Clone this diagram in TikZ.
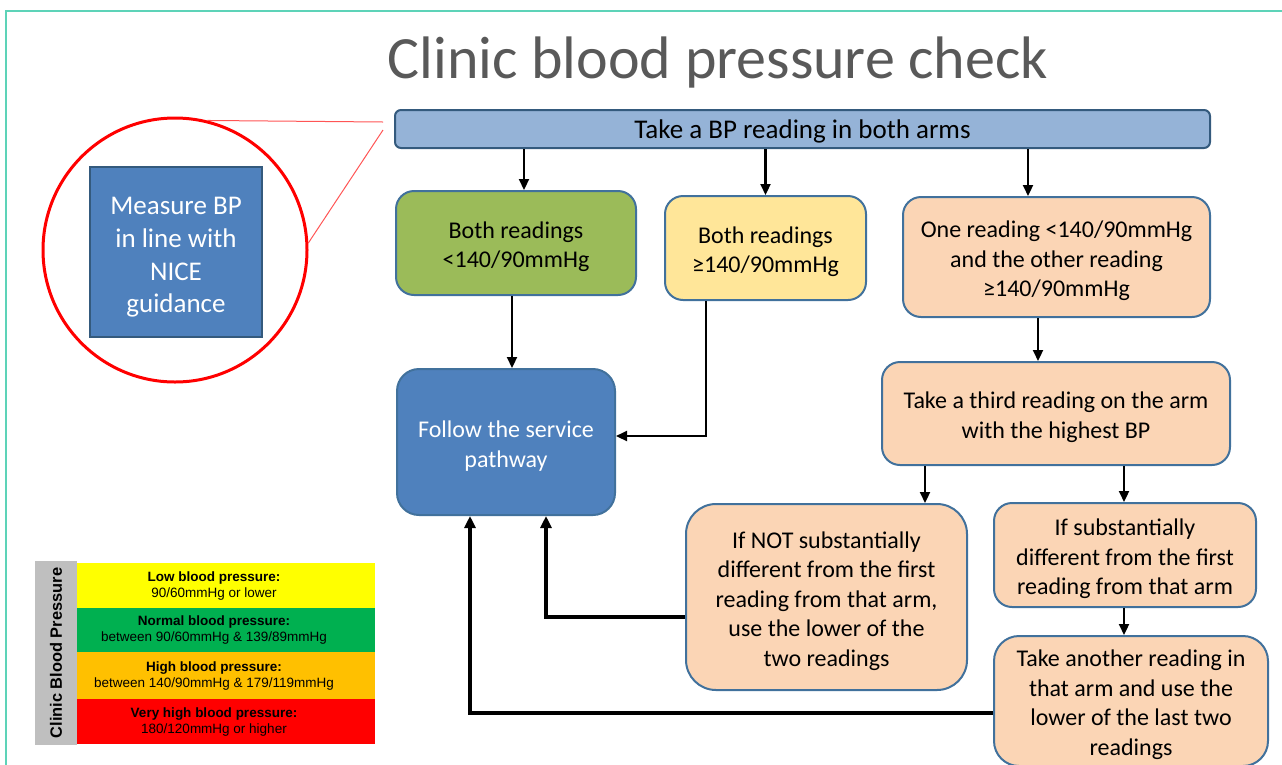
\documentclass[tikz,border=0pt]{standalone}
\usepackage{fontspec}
\setmainfont{Carlito}
\newfontfamily\arialf{Liberation Sans}
\usetikzlibrary{arrows.meta}
\definecolor{teal1}{HTML}{5DD3B8}
\definecolor{titlec}{HTML}{595959}
\definecolor{bordc}{HTML}{41719C}
\definecolor{topc}{HTML}{95B3D7}
\definecolor{greenc}{HTML}{9BBB59}
\definecolor{yellowc}{HTML}{FFE699}
\definecolor{peachc}{HTML}{FBD5B5}
\definecolor{bluec}{HTML}{4F81BD}
\definecolor{lgy}{HTML}{FFFF00}
\definecolor{lgg}{HTML}{00B050}
\definecolor{lgo}{HTML}{FFC000}
\definecolor{lgr}{HTML}{FF0000}
\definecolor{lggray}{HTML}{BFBFBF}
\definecolor{redc}{HTML}{FF0000}
\definecolor{redl}{HTML}{FF5555}
\newcommand\fst{\rule{0pt}{24.5pt}}
\tikzset{
  fbox/.style={draw=bordc, line width=2pt, rounded corners=18pt, align=center,
    inner sep=0pt, font=\fontsize{24}{29.5}\selectfont},
  arr/.style={draw=black, line width=2.2pt, -{Triangle[length=11pt,width=10pt]}},
  fback/.style={draw=black, line width=3.5pt, -{Triangle[length=12pt,width=11pt]}},
  lgrow/.style={minimum width=298pt, minimum height=45pt, inner sep=0pt, align=center,
    font=\arialf\fontsize{13.5}{16}\selectfont}
}
\begin{document}
\begin{tikzpicture}[x=1pt,y=-1pt]
\useasboundingbox (0,0) rectangle (1282,764);
% outer border
\draw[teal1, line width=2pt] (6,11) rectangle (1320,800);
% title
\node[anchor=base, text=titlec, font=\fontsize{60}{72}\selectfont, inner sep=0pt] (title) at (718,78) {Clinic blood pressure check};
% top box
\node[fbox, fill=topc, rounded corners=6pt, minimum width=815pt, minimum height=38pt,
  font=\fontsize{27}{32}\selectfont, draw=bordc!80!black] (top) at (802.5,129) {\rule{0pt}{24pt}Take a BP reading in both arms};
% row 2
\node[fbox, fill=greenc, minimum width=240pt, minimum height=104pt] (green) at (516,243) {\fst Both readings\\<140/90mmHg};
\node[fbox, fill=yellowc, minimum width=201pt, minimum height=104pt] (yellow) at (765.5,248) {\fst Both readings\\≥140/90mmHg};
\node[fbox, fill=peachc, minimum width=307pt, minimum height=120pt] (or1) at (1056.5,257) {\fst One reading <140/90mmHg\\and the other reading\\≥140/90mmHg};
% follow
\node[fbox, fill=bluec, text=white, rounded corners=22pt, minimum width=218pt, minimum height=146pt] (follow) at (506,442) {\fst Follow the service\\pathway};
% third
\node[fbox, fill=peachc, minimum width=348pt, minimum height=103pt] (third) at (1056,413.5) {\fst Take a third reading on the arm\\with the highest BP};
\node[fbox, fill=peachc, rounded corners=30pt, minimum width=281pt, minimum height=186pt] (notbox) at (826.5,597) {\fst If NOT substantially\\different from the first\\reading from that arm,\\use the lower of the\\two readings};
\node[fbox, fill=peachc, minimum width=262pt, minimum height=104pt] (subst) at (1125,555) {\fst If substantially\\different from the first\\reading from that arm};
\node[fbox, fill=peachc, rounded corners=25pt, minimum width=274pt, minimum height=130pt] (another) at (1131,701) {\fst Take another reading in\\that arm and use the\\lower of the last two\\readings};
% arrows
\draw[arr] ([xshift=8pt]green.north |- top.south) -- ([xshift=8pt]green.north);
\draw[arr] (yellow.north |- top.south) -- (yellow.north);
\draw[arr] ([xshift=-28.5pt]or1.north |- top.south) -- ([xshift=-28.5pt]or1.north);
\draw[arr] ([xshift=-4pt]green.south) -- ([xshift=6pt]follow.north);
\draw[arr] ([xshift=-59.5pt]yellow.south) |- ([yshift=6pt]follow.east);
\draw[arr] ([xshift=-18.5pt]or1.south) -- ([xshift=-18pt]third.north);
\draw[arr] ([xshift=-131pt]third.south) -- ([xshift=98.5pt]notbox.north);
\draw[arr] ([xshift=68pt]third.south) -- ([xshift=-1pt]subst.north);
\draw[arr] ([xshift=-1pt]subst.south) -- ([xshift=-7pt]another.north);
\draw[fback] ([yshift=-20pt]notbox.west) -| ([xshift=40pt]follow.south);
\draw[fback] ([yshift=-12pt]another.west) -| ([xshift=-36pt]follow.south);
% zoom circle
\node[circle, draw=redc, line width=3pt, minimum size=264pt, inner sep=0pt] (lens) at (175,250) {};
\coordinate (z1) at (383,122);
\coordinate (z2) at (383,130);
\draw[redl, line width=1pt] (lens.76) -- (z1);
\draw[redl, line width=1pt] (lens.3) -- (z2);
\node[draw=bordc!80!black, line width=2pt, fill=bluec, text=white, align=center, minimum width=172pt, minimum height=170pt, inner sep=0pt,
  font=\fontsize{27}{32.7}\selectfont] (measure) at (176,252) {\rule{0pt}{28pt}Measure BP\\in line with\\NICE\\guidance};
% legend
\node[fill=lggray, minimum width=42pt, minimum height=184pt, inner sep=0pt] (lgside) at (56,653) {};
\node[rotate=90, font=\arialf\bfseries\fontsize{16.4}{19}\selectfont] (lgtxt) at (lgside) {Clinic Blood Pressure};
\node[lgrow, fill=lgy] (row1) at (226,585.5) {};
\node[lgrow, fill=lgg, minimum height=44pt] (row2) at (226,630) {};
\node[lgrow, fill=lgo, minimum height=47pt] (row3) at (226,675.5) {};
\node[lgrow, fill=lgr] (row4) at (226,721.5) {};
\node[lgrow, minimum width=0pt, minimum height=0pt] (t1) at ([xshift=-12pt]row1.center) {\textbf{Low blood pressure:}\\90/60mmHg or lower};
\node[lgrow, minimum width=0pt, minimum height=0pt] (t2) at ([xshift=-12pt]row2.center) {\textbf{Normal blood pressure:}\\between 90/60mmHg \& 139/89mmHg};
\node[lgrow, minimum width=0pt, minimum height=0pt] (t3) at ([xshift=-12pt]row3.center) {\textbf{High blood pressure:}\\between 140/90mmHg \& 179/119mmHg};
\node[lgrow, minimum width=0pt, minimum height=0pt] (t4) at ([xshift=-12pt]row4.center) {\textbf{Very high blood pressure:}\\180/120mmHg or higher};
\end{tikzpicture}
\end{document}
